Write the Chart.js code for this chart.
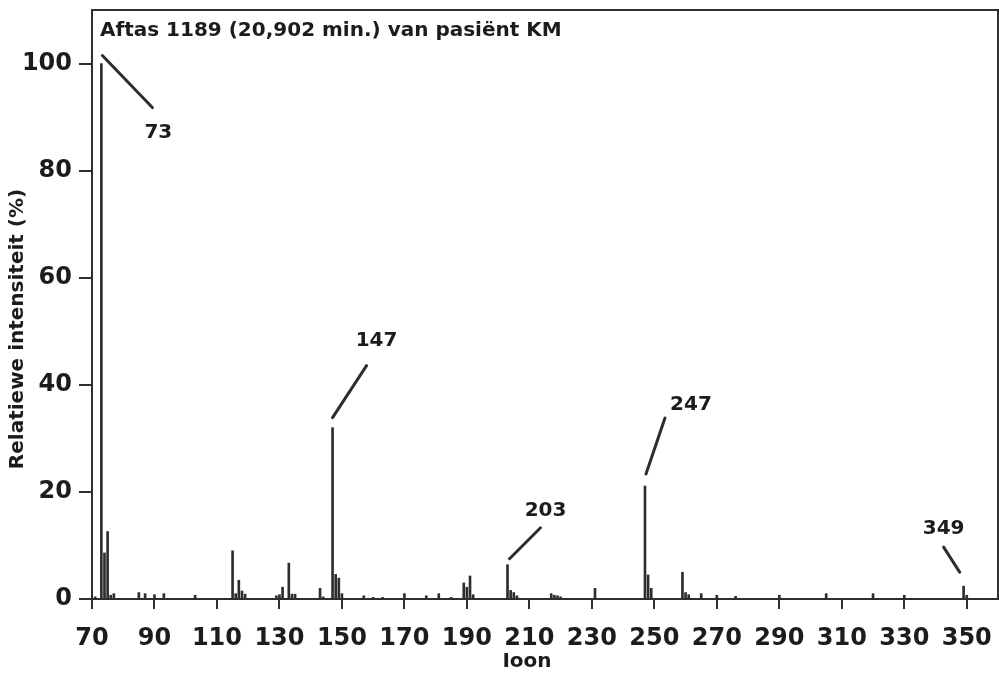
<!DOCTYPE html>
<html>
<head>
<meta charset="utf-8">
<script src="https://cdn.jsdelivr.net/npm/chart.js@4.4.1/dist/chart.umd.min.js"></script>
<style>
  html, body { margin: 0; padding: 0; background: #ffffff; }
  #wrap { width: 999px; height: 678px; position: relative; }
</style>
</head>
<body>
<div id="wrap"><canvas id="c" width="999" height="678"></canvas></div>
<script>
// ---- data ----
const ionMz = [71, 73, 74, 75, 76, 77, 85, 87, 90, 93, 103,
  115, 116, 117, 118, 119, 129, 130, 131, 133, 134, 135,
  143, 144, 147, 148, 149, 150, 157, 160, 163, 170, 177, 181, 185,
  189, 190, 191, 192, 203, 204, 205, 206, 217, 218, 219, 220, 231,
  247, 248, 249, 259, 260, 261, 265, 270, 276, 290, 305, 320, 330, 349, 350];
const intensity = [0.4, 100, 8.6, 12.6, 0.7, 1.0, 1.2, 1.0, 0.8, 1.0, 0.7,
  9.0, 1.0, 3.5, 1.5, 0.9, 0.6, 0.8, 2.2, 6.7, 0.9, 0.9,
  2.0, 0.4, 32.0, 4.6, 3.9, 1.0, 0.6, 0.3, 0.3, 1.0, 0.6, 1.0, 0.3,
  3.0, 2.2, 4.3, 0.8, 6.4, 1.6, 1.2, 0.6, 1.0, 0.7, 0.6, 0.4, 2.0,
  21.1, 4.5, 2.0, 5.0, 1.2, 0.8, 1.0, 0.7, 0.5, 0.7, 1.0, 1.0, 0.7, 2.4, 0.7];
const xTickValues = [70, 90, 110, 130, 150, 170, 190, 210, 230, 250, 270, 290, 310, 330, 350];
const yTickValues = [0, 20, 40, 60, 80, 100];
const labelledPeaks = [73, 147, 203, 247, 349];

const chartTitle = 'Aftas 1189 (20,902 min.) van pasiënt KM';
const xTitle = 'Ioon';
const yTitle = 'Relatiewe intensiteit (%)';

// ---- styles ----
const INK = '#2e2e2e';
const TEXT = '#1c1c1c';
const FONT = '"DejaVu Sans", "Liberation Sans", sans-serif';
// leader-line offsets (px) relative to the peak top: [x1, y1, x2, y2, labelX, labelY]
const leaderStyle = {
  73:  [1, -8, 51, 44, 57, 69],
  147: [0, -10, 34, -62, 44, -87],
  203: [2, -6, 33, -37, 38, -54],
  247: [1, -12, 20, -68, 46, -81],
  349: [-4, -14, -20, -39, -20, -57]
};

const decor = {
  id: 'decor',
  afterDraw(chart) {
    const { ctx, chartArea: a, scales: { x, y } } = chart;
    ctx.save();
    // frame top + right
    ctx.strokeStyle = INK;
    ctx.lineWidth = 2;
    ctx.beginPath();
    ctx.moveTo(a.left, a.top);
    ctx.lineTo(a.right, a.top);
    ctx.lineTo(a.right, a.bottom);
    ctx.stroke();

    // title inside frame
    ctx.fillStyle = TEXT;
    ctx.font = 'bold 20px ' + FONT;
    ctx.textAlign = 'left';
    ctx.textBaseline = 'middle';
    ctx.fillText(chartTitle, a.left + 8, a.top + 21);

    // peak annotations
    ctx.lineWidth = 3;
    ctx.lineCap = 'round';
    ctx.font = 'bold 20px ' + FONT;
    ctx.textAlign = 'center';
    labelledPeaks.forEach(m => {
      const i = ionMz.indexOf(m);
      const px = x.getPixelForValue(m);
      const py = y.getPixelForValue(intensity[i]);
      const s = leaderStyle[m];
      ctx.beginPath();
      ctx.moveTo(px + s[0], py + s[1]);
      ctx.lineTo(px + s[2], py + s[3]);
      ctx.stroke();
      ctx.fillText(String(m), px + s[4], py + s[5]);
    });

    // axis titles
    ctx.font = 'bold 20px ' + FONT;
    ctx.textAlign = 'center';
    ctx.fillText(xTitle, 527, 662);
    ctx.translate(18, 329);
    ctx.rotate(-Math.PI / 2);
    ctx.fillText(yTitle, 0, 0);
    ctx.restore();
  }
};

new Chart(document.getElementById('c'), {
  type: 'bar',
  data: {
    datasets: [{
      data: ionMz.map((m, i) => ({ x: m, y: intensity[i] })),
      backgroundColor: INK,
      borderWidth: 0,
      barThickness: 2
    }]
  },
  options: {
    responsive: false,
    devicePixelRatio: 1,
    animation: false,
    layout: { padding: { top: 10, right: 1, left: 0, bottom: 0 } },
    plugins: { legend: { display: false }, tooltip: { enabled: false }, title: { display: false } },
    scales: {
      x: {
        type: 'linear',
        min: 70,
        max: 360,
        offset: false,
        afterFit(s) { s.height = 79; s.paddingLeft = 0; s.paddingRight = 0; },
        afterBuildTicks(s) { s.ticks = xTickValues.map(v => ({ value: v })); },
        grid: { offset: false, drawOnChartArea: false, drawTicks: true, tickLength: 10, color: INK, lineWidth: 2 },
        border: { display: true, color: INK, width: 2 },
        ticks: { color: TEXT, font: { family: FONT, weight: 'bold', size: 24 }, padding: 15, maxRotation: 0, autoSkip: false }
      },
      y: {
        min: 0,
        max: 110,
        afterFit(s) { s.width = 92; s.paddingTop = 0; s.paddingBottom = 0; },
        afterBuildTicks(s) { s.ticks = yTickValues.map(v => ({ value: v })); },
        grid: { drawOnChartArea: false, drawTicks: true, tickLength: 13, color: INK, lineWidth: 2 },
        border: { display: true, color: INK, width: 2 },
        ticks: { color: TEXT, font: { family: FONT, weight: 'bold', size: 24 }, padding: 7 }
      }
    }
  },
  plugins: [decor]
});
</script>
</body>
</html>
